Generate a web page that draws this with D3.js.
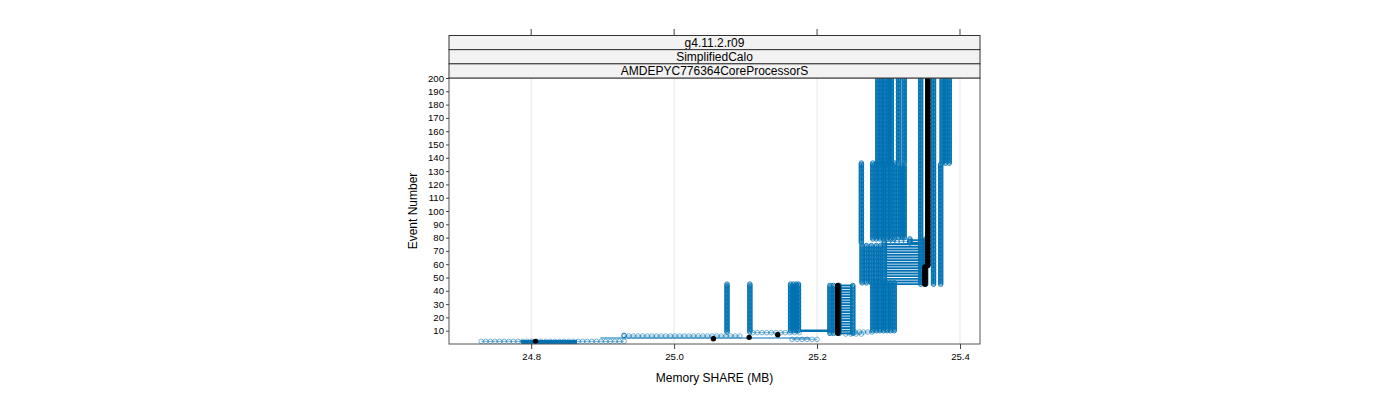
<!DOCTYPE html>
<html><head><meta charset="utf-8">
<script src="https://cdn.jsdelivr.net/npm/d3@7/dist/d3.min.js"></script>
<style>body{margin:0;background:#fff;font-family:"Liberation Sans",Arial,sans-serif;}</style>
</head><body><svg id="c" width="1400" height="400"></svg>
<script>
// ---------------- data ----------------
const stripLabels = ["g4.11.2.r09", "SimplifiedCalo", "AMDEPYC776364CoreProcessorS"];
const xTicks = [24.8, 25.0, 25.2, 25.4];
const yTicks = [10,20,30,40,50,60,70,80,90,100,110,120,130,140,150,160,170,180,190,200];
const xTitle = "Memory SHARE (MB)";
const yTitle = "Event Number";

// blue runs holding a constant memory value: [memory MB, first event, last event]
const blueColumns = [
  [25.074, 9, 45], [25.106, 9, 45],
  [25.163, 10, 45], [25.167, 10, 45], [25.171, 10, 45], [25.174, 10, 45],
  [25.218, 8, 44], [25.223, 8, 44],
  [25.278, 10, 46], [25.283, 10, 46], [25.288, 10, 46], [25.293, 10, 46], [25.298, 10, 46], [25.303, 10, 46], [25.308, 10, 46],
  [25.263, 46, 74], [25.269, 46, 74], [25.276, 46, 74], [25.283, 46, 74], [25.289, 46, 74],
  [25.345, 45, 200], [25.363, 45, 200], [25.373, 45, 135],
  [25.262, 76, 136],
  [25.278, 79, 136], [25.283, 79, 136], [25.288, 79, 136], [25.293, 79, 136], [25.298, 79, 136], [25.303, 79, 136], [25.308, 79, 136],
  [25.314, 80, 134], [25.319, 80, 134], [25.322, 80, 134],
  [25.285, 136, 200], [25.290, 136, 200], [25.295, 136, 200], [25.300, 136, 200], [25.304, 136, 200],
  [25.314, 136, 200], [25.322, 136, 200],
  [25.375, 136, 200], [25.380, 136, 200], [25.385, 136, 200]
];
// blue runs alternating between two memory values: [memory A, memory B, first event, last event]
const blueBands = [
  [25.231, 25.250, 8, 44],
  [25.294, 25.352, 45, 76],
  [25.330, 25.352, 76, 79]
];
// samples spread over memory within one event: [memory from, memory to, event]
const blueSweeps = [
  [24.730, 24.930, 2],
  [24.930, 25.092, 6],
  [25.110, 25.175, 8.5],
  [25.165, 25.200, 3.5],
  [25.240, 25.262, 7.5],
  [25.253, 25.277, 9],
  [25.294, 25.330, 77]
];
// connecting trace lines: [memory from, memory to, event, overlapping runs]
const blueTraces = [
  [24.786, 24.864, 1.5, 4],
  [24.897, 24.930, 4.5, 1],
  [24.930, 25.190, 4.5, 1],
  [25.176, 25.229, 10, 2]
];
// single circle
const bluePoints = [[24.930, 6.5]];
// black reference run: [memory MB, first event, last event]
const blackRun = [
  [24.806, 2, 2], [25.055, 4, 4], [25.105, 5, 5], [25.145, 7, 7],
  [25.229, 8, 44], [25.351, 45, 58], [25.355, 59, 200]
];

// ---------------- drawing ----------------
const blue = "#0072B2";
const svg = d3.select("#c");
const P = {l: 449, r: 980, t: 78, b: 344};
const x = d3.scaleLinear().domain([24.685, 25.428]).range([P.l, P.r]);
const y = d3.scaleLinear().domain([0, 200]).range([P.b, P.t]);

// grid
svg.append("g").selectAll("line").data(xTicks).join("line")
  .attr("x1", d => x(d)).attr("x2", d => x(d)).attr("y1", P.t).attr("y2", P.b)
  .attr("stroke", "#e6e6e6").attr("stroke-width", 1);

const defs = svg.append("defs");
defs.append("clipPath").attr("id", "clip").append("rect")
  .attr("x", P.l).attr("y", P.t).attr("width", P.r - P.l).attr("height", P.b - P.t);
const plot = svg.append("g").attr("clip-path", "url(#clip)");

const R = 2.3;
function ring(g, cx, cy, op) {
  g.append("circle").attr("cx", cx).attr("cy", cy).attr("r", R)
    .attr("fill", "none").attr("stroke", blue).attr("stroke-width", 0.9)
    .attr("stroke-opacity", op || 1);
}

// traces
blueTraces.forEach(([a, b, e, n]) => {
  plot.append("line").attr("x1", x(a)).attr("x2", x(b)).attr("y1", y(e)).attr("y2", y(e))
    .attr("stroke", blue).attr("stroke-width", n > 1 ? 1 + n * 0.8 : 1);
});

// sweeps: rows of sample circles
blueSweeps.forEach(([a, b, e]) => {
  const g = plot.append("g");
  g.append("line").attr("x1", x(a)).attr("x2", x(b)).attr("y1", y(e)).attr("y2", y(e))
    .attr("stroke", blue).attr("stroke-width", 0.8).attr("stroke-opacity", 0.7);
  const px0 = x(a), px1 = x(b);
  const n = Math.max(1, Math.round((px1 - px0) / 4.6));
  d3.range(n + 1).forEach(i => ring(g, px0 + (px1 - px0) * i / n, y(e), 0.6));
});

// bands
blueBands.forEach(([a, b, e1, e2]) => {
  const g = plot.append("g");
  d3.range(e1, e2 + 1).forEach(e => {
    if ((e - e1) % 2 === 0) {
      g.append("line").attr("x1", x(a)).attr("x2", x(b)).attr("y1", y(e)).attr("y2", y(e))
        .attr("stroke", blue).attr("stroke-width", 1.9);
    }
  });
  [a, b].forEach(m => d3.range(e1, e2 + 1).forEach(e => ring(g, x(m), y(e))));
});

// columns
blueColumns.forEach(([m, e1, e2]) => {
  const g = plot.append("g");
  g.append("line").attr("x1", x(m)).attr("x2", x(m)).attr("y1", y(e1)).attr("y2", y(e2))
    .attr("stroke", blue).attr("stroke-width", 1);
  d3.range(e1, e2 + 1).forEach(e => ring(g, x(m), y(e)));
});

bluePoints.forEach(([m, e]) => ring(plot, x(m), y(e)));

// black run
blackRun.forEach(([m, e1, e2]) => {
  d3.range(e1, e2 + 1).forEach(e => {
    plot.append("circle").attr("cx", x(m)).attr("cy", y(e)).attr("r", 2.7).attr("fill", "#000");
  });
});

// panel border
svg.append("rect").attr("x", P.l).attr("y", P.t).attr("width", P.r - P.l).attr("height", P.b - P.t)
  .attr("fill", "none").attr("stroke", "#555").attr("stroke-width", 1);

// strips
const stripH = (P.t - 35.5) / 3;
stripLabels.forEach((s, i) => {
  const sy = 35.5 + i * stripH;
  svg.append("rect").attr("x", P.l).attr("y", sy).attr("width", P.r - P.l).attr("height", stripH)
    .attr("fill", "#f2f2f2").attr("stroke", "#333").attr("stroke-width", 1);
  svg.append("text").attr("x", (P.l + P.r) / 2).attr("y", sy + stripH / 2 + 4.3)
    .attr("text-anchor", "middle").attr("font-size", 12).attr("fill", "#000").text(s);
});

// top ticks
svg.append("g").selectAll("line").data(xTicks).join("line")
  .attr("x1", d => x(d)).attr("x2", d => x(d)).attr("y1", 29).attr("y2", 35.5)
  .attr("stroke", "#444");

// bottom axis
const xa = svg.append("g").attr("transform", `translate(0,${P.b})`)
  .call(d3.axisBottom(x).tickValues(xTicks).tickFormat(d3.format(".1f")).tickSize(5).tickPadding(4));
xa.select(".domain").remove();
xa.selectAll("line").attr("stroke", "#444");
xa.selectAll("text").attr("font-size", 9.6).attr("font-family", "Liberation Sans, Arial, sans-serif").attr("fill", "#000");

// left axis
const ya = svg.append("g").attr("transform", `translate(${P.l},0)`)
  .call(d3.axisLeft(y).tickValues(yTicks).tickFormat(d3.format("d")).tickSize(3).tickPadding(2));
ya.select(".domain").remove();
ya.selectAll("line").attr("stroke", "#444");
ya.selectAll("text").attr("font-size", 9.6).attr("font-family", "Liberation Sans, Arial, sans-serif").attr("fill", "#000");

// titles
svg.append("text").attr("x", (P.l + P.r) / 2).attr("y", 382).attr("text-anchor", "middle")
  .attr("font-size", 12).text(xTitle);
svg.append("text").attr("transform", `translate(417,${(P.t + P.b) / 2}) rotate(-90)`)
  .attr("text-anchor", "middle").attr("font-size", 12).text(yTitle);
</script></body></html>
